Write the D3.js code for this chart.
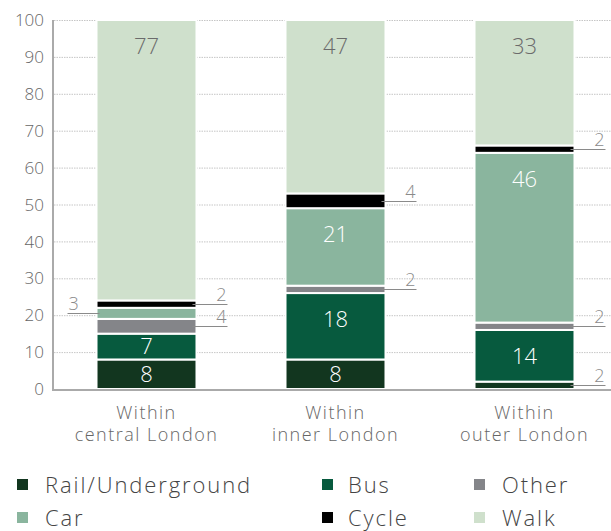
<!DOCTYPE html>
<html><head><meta charset="utf-8">
<script src="https://cdn.jsdelivr.net/npm/d3@7"></script>
<style>body{margin:0;background:#fff}svg{display:block}text{font-family:"Open Sans",Lato,sans-serif;font-weight:300}</style>
</head><body><svg id="c" width="611" height="531"></svg>
<script>
const categories = [["Within","central London"],["Within","inner London"],["Within","outer London"]];
const modes = ["Rail/Underground","Bus","Other","Car","Cycle","Walk"];
const colors = ["#12361f","#075a3e","#848589","#8ab59e","#000000","#cfe0cc"];
const railVals = [8,8,2];
const busVals = [7,18,14];
const otherVals = [4,2,2];
const carVals = [3,21,46];
const cycleVals = [2,4,2];
const walkVals = [77,47,33];
const yTicks = [0,10,20,30,40,50,60,70,80,90,100];
const leftLabelled = ["0-Car"]; // which small labels sit on the left of the bar

const series = [railVals,busVals,otherVals,carVals,cycleVals,walkVals];
const svg = d3.select("#c");
const y = d3.scaleLinear().domain([0,100]).range([389,20]).clamp(true);
const x = d3.scaleBand().domain(d3.range(categories.length)).range([52,619]).paddingInner(0.471).paddingOuter(0.2355);

// grid
svg.append("g").selectAll("line").data(yTicks.filter(d=>d>0)).join("line")
  .attr("x1",54).attr("x2",611).attr("y1",d=>y(d)+0.5).attr("y2",d=>y(d)+0.5)
  .attr("stroke","#b8b8b8").attr("stroke-width",0.8).attr("stroke-dasharray","1.5,1");

// y tick labels
svg.append("g").selectAll("text").data(yTicks).join("text")
  .attr("x",44).attr("y",d=>y(d)).attr("dy","0.36em").attr("text-anchor","end")
  .attr("font-size",17).attr("fill","#666").text(d=>d);

// stacks
const segs = [];
categories.forEach((c,i)=>{
  let cum = 0;
  series.forEach((s,k)=>{
    const v = s[i];
    const y0 = cum; cum += v;
    const y1 = k===series.length-1 ? 100 : cum;
    segs.push({i,k,v,y0,y1});
  });
});
svg.append("g").selectAll("rect").data(segs).join("rect")
  .attr("x",d=>x(d.i)).attr("width",x.bandwidth())
  .attr("y",d=>y(d.y1)).attr("height",d=>y(d.y0)-y(d.y1))
  .attr("fill",d=>colors[d.k]).attr("stroke","#fff").attr("stroke-width",2);

// inside labels
const big = segs.filter(d=>d.v>=5);
svg.append("g").selectAll("text").data(big).join("text")
  .attr("x",d=>x(d.i)+x.bandwidth()/2)
  .attr("y",d=>Math.min(y(d.y1)+26,(y(d.y0)+y(d.y1))/2))
  .attr("dy","0.36em").attr("text-anchor","middle")
  .attr("font-size",22).attr("fill",d=>d.k===5?"#6b6b6b":"#fff").text(d=>d.v);

// outside labels
const small = segs.filter(d=>d.v<5);
const g = svg.append("g");
small.forEach(d=>{
  const left = leftLabelled.includes(d.i+"-"+["Rail","Bus","Other","Car","Cycle","Walk"][d.k]);
  const yy = Math.round(y((d.y0+d.y1)/2))+0.5;
  const bx0 = x(d.i), bx1 = x(d.i)+x.bandwidth();
  const xs = left ? bx0-29 : bx1-4, xe = left ? bx0+3 : bx1+31;
  g.append("line").attr("x1",xs).attr("x2",xe).attr("y1",yy).attr("y2",yy)
    .attr("stroke","#8a8a8a").attr("stroke-width",1);
  g.append("text").attr("x",left?xs+1:xe-1).attr("y",yy-4)
    .attr("text-anchor",left?"start":"end").attr("font-size",18).attr("fill","#8a8a8a").text(d.v);
});

// axes lines
svg.append("line").attr("x1",53).attr("x2",53).attr("y1",y(100)).attr("y2",390).attr("stroke","#aaa").attr("stroke-width",2);
svg.append("line").attr("x1",52).attr("x2",611).attr("y1",390).attr("y2",390).attr("stroke","#aaa").attr("stroke-width",2);

// x labels
categories.forEach((c,i)=>{
  const t = svg.append("text").attr("x",x(i)+x.bandwidth()/2).attr("y",419)
    .attr("text-anchor","middle").attr("font-size",18).attr("letter-spacing",1.5).attr("fill","#666");
  c.forEach((line,j)=>t.append("tspan").attr("x",x(i)+x.bandwidth()/2).attr("dy",j?22:0).text(line));
});

// legend
const legX = [17,322,474], legTX = [45,348,502], legY = [485,518];
const order = [0,1,2,3,4,5];
order.forEach((k,n)=>{
  const col = n%3, row = Math.floor(n/3);
  svg.append("rect").attr("x",legX[col]).attr("y",legY[row]-6).attr("width",11).attr("height",11).attr("fill",colors[k]);
  svg.append("text").attr("x",legTX[col]).attr("y",legY[row]).attr("dy","0.36em")
    .attr("font-size",22).attr("letter-spacing",1.9).attr("fill","#444").text(modes[k]);
});
</script></body></html>
